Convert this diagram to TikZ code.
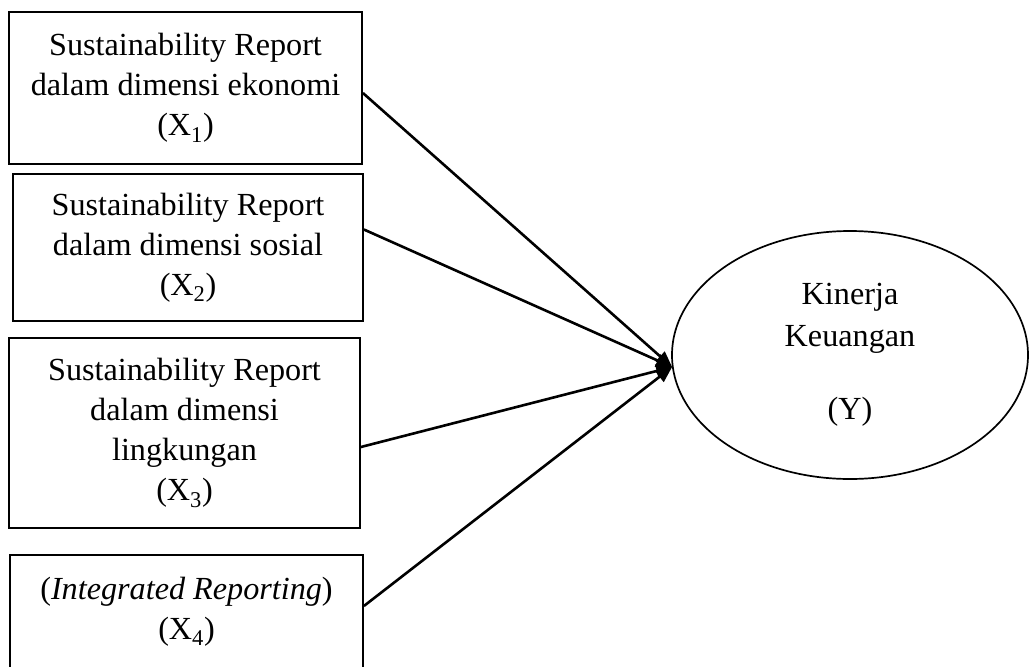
\documentclass[tikz,border=0pt]{standalone}
\usepackage{fontspec}
\setmainfont{Liberation Serif}
\usetikzlibrary{shapes.geometric,arrows.meta}
\tikzset{
  varbox/.style={draw=black, line width=1.8pt, rectangle, inner sep=0pt, align=center,
    font=\fontsize{32.2}{40}\selectfont},
  resultell/.style={draw=black, line width=1.7pt, ellipse, inner sep=0pt, align=center,
    minimum width=356pt, minimum height=248pt, font=\fontsize{32.2}{42}\selectfont},
  conn/.style={line width=2.6pt, -{Triangle[length=16pt,width=13pt]}}
}
\begin{document}
\begin{tikzpicture}[x=1pt,y=-1pt]
\clip (0,0) rectangle (1029,667);
\useasboundingbox (0,0) rectangle (1029,667);
\node[varbox, minimum width=353pt, minimum height=152pt] (b1) at (185.5,88)
  {Sustainability Report\\dalam dimensi ekonomi\\(X\textsubscript{1})};
\node[varbox, minimum width=350pt, minimum height=147pt] (b2) at (188,247.5)
  {Sustainability Report\\dalam dimensi sosial\\(X\textsubscript{2})};
\node[varbox, minimum width=351pt, minimum height=190pt] (b3) at (184.5,433)
  {Sustainability Report\\dalam dimensi\\lingkungan\\(X\textsubscript{3})};
\node[varbox, minimum width=353pt, minimum height=146pt] (b4) at (186.5,628)
  {(\textit{Integrated Reporting})\\(X\textsubscript{4})\\\mbox{}};
\node[resultell] (y) at (850,355) {Kinerja\\Keuangan\\[31pt](Y)};
\coordinate (tip) at ([yshift=-12pt,xshift=1pt]y.west);
\draw[conn] ([yshift=-5pt]b1.east) -- (tip);
\draw[conn] ([yshift=18pt]b2.east) -- (tip);
\draw[conn] ([yshift=-14pt]b3.east) -- (tip);
\draw[conn] ([yshift=22pt]b4.east) -- (tip);
\end{tikzpicture}
\end{document}
